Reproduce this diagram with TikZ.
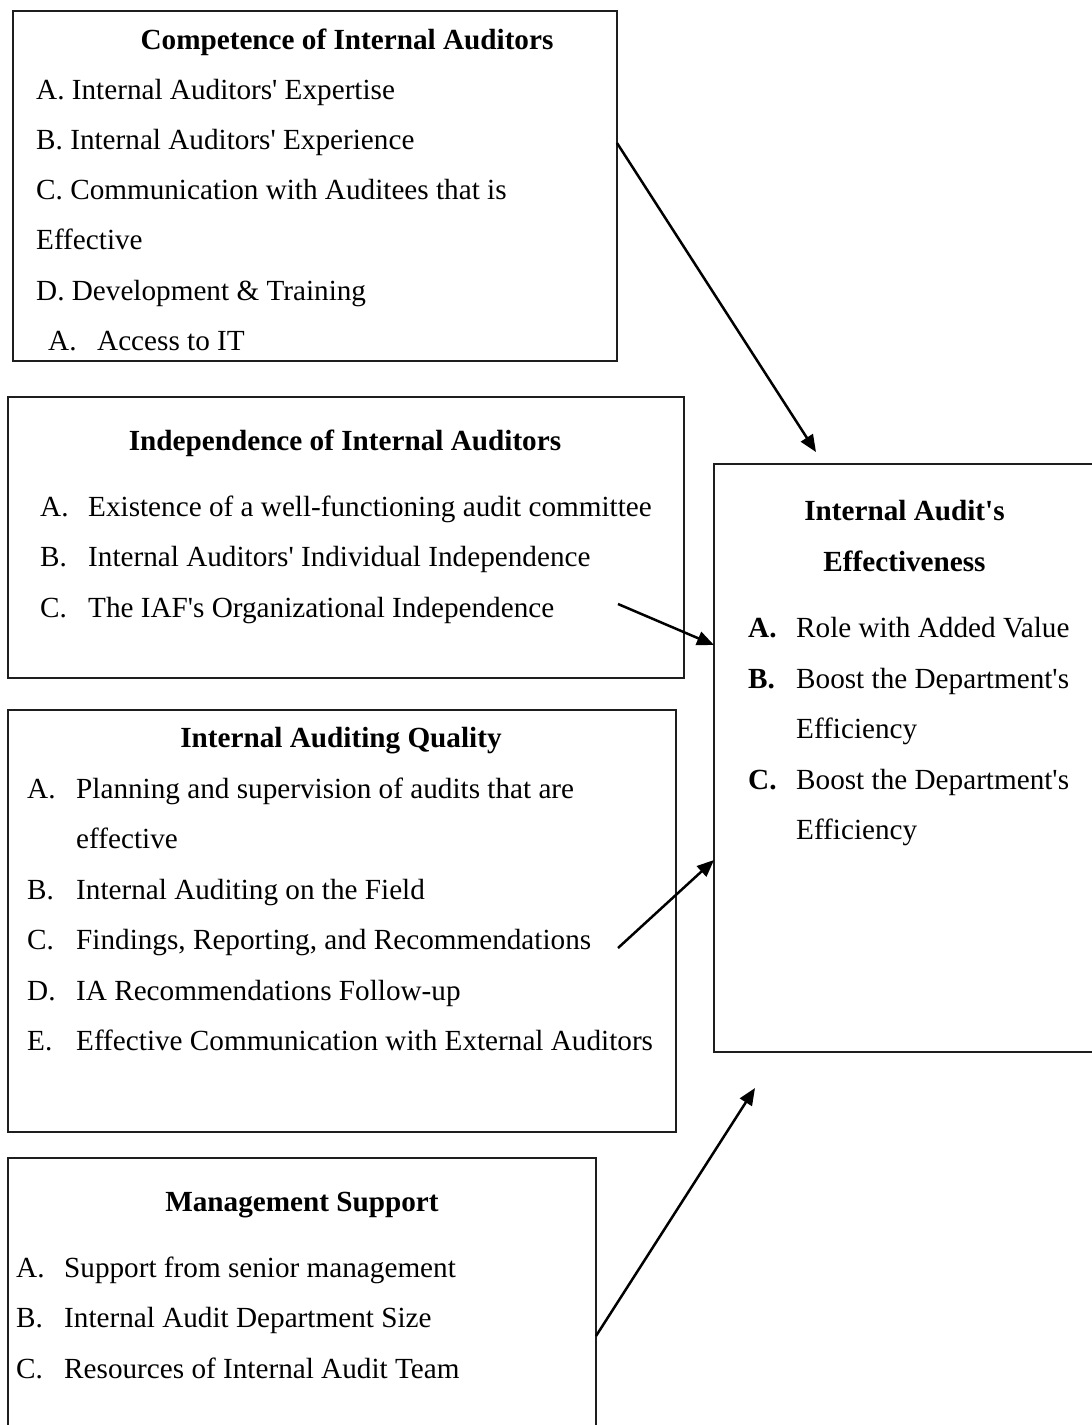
\documentclass[tikz,border=0pt]{standalone}
\usepackage{fontspec}
\setmainfont{Liberation Serif}
\usepackage{tikz}
\usetikzlibrary{calc,arrows.meta}
\definecolor{ink}{HTML}{000000}
\definecolor{frame}{HTML}{1E1E1E}
\newcommand{\ap}{\textquotesingle}
\tikzset{
  box/.style={draw=frame, line width=1.3pt, inner sep=0pt, outer sep=0pt, anchor=north west},
  link/.style={draw=ink, line width=2.5pt, -{Triangle[length=17pt,width=14pt]}},
  head/.style={text=ink, font=\fontsize{29.2}{35}\selectfont\bfseries, inner sep=0pt, anchor=base},
  item/.style={text=ink, font=\fontsize{29.2}{35}\selectfont, inner sep=0pt, anchor=base west},
}

\begin{document}
\begin{tikzpicture}[x=1pt,y=-1pt]
  \useasboundingbox (0,0) rectangle (1092,1425);
  \clip (0,0) rectangle (1092,1425);
  % boxes
  \node[box, minimum width=604pt, minimum height=350pt] (comp) at (13,11) {};
  \node[box, minimum width=676pt, minimum height=281pt] (indep) at (8,397) {};
  \node[box, minimum width=668pt, minimum height=422pt] (qual) at (8,710) {};
  \node[box, minimum width=588pt, minimum height=320pt] (mgmt) at (8,1158) {};
  \node[box, minimum width=420pt, minimum height=588pt] (eff) at (714,464) {};

  % competence
  \node[head] (comp-h) at (347,49) {Competence of Internal Auditors};
  \foreach \txt [count=\i] in {A. Internal Auditors\ap{} Expertise, B. Internal Auditors\ap{} Experience,
      C. Communication with Auditees that is, Effective, D. Development \& Training}
    \node[item] (comp-\i) at (36,{49+50.2*\i}) {\txt};
  \node[item] (comp-6) at (48,350) {A.};
  \node[item] (comp-6t) at (97,350) {Access to IT};

  % independence
  \node[head] (indep-h) at (345,450) {Independence of Internal Auditors};
  \foreach \lab/\txt [count=\i] in {A./Existence of a well-functioning audit committee,
      B./Internal Auditors\ap{} Individual Independence, C./The IAF\ap{}s Organizational Independence} {
    \node[item] (indep-\i) at (40,{466+50.4*\i}) {\lab};
    \node[item] (indep-\i t) at (88,{466+50.4*\i}) {\txt};
  }

  % quality
  \node[head] (qual-h) at (341,747) {Internal Auditing Quality};
  \foreach \lab/\txt/\y [count=\i] in {A./Planning and supervision of audits that are/798,
      B./Internal Auditing on the Field/899, C./{Findings, Reporting, and Recommendations}/949,
      D./IA Recommendations Follow-up/1000, E./Effective Communication with External Auditors/1050} {
    \node[item] (qual-\i) at (27,\y) {\lab};
    \node[item] (qual-\i t) at (76,\y) {\txt};
  }
  \node[item] (qual-1c) at (76,848) {effective};

  % management
  \node[head] (mgmt-h) at (302,1211) {Management Support};
  \foreach \lab/\txt [count=\i] in {A./Support from senior management,
      B./Internal Audit Department Size, C./Resources of Internal Audit Team} {
    \node[item] (mgmt-\i) at (16,{1227+50.4*\i}) {\lab};
    \node[item] (mgmt-\i t) at (64,{1227+50.4*\i}) {\txt};
  }

  % effectiveness
  \node[head] (eff-h1) at (904.5,520) {Internal Audit\ap{}s};
  \node[head] (eff-h2) at (904.5,571) {Effectiveness};
  \node[item] (eff-1) at (748,637) {\textbf{A.}};
  \node[item] (eff-1t) at (796,637) {Role with Added Value};
  \node[item] (eff-2) at (748,688) {\textbf{B.}};
  \node[item] (eff-2t) at (796,688) {Boost the Department\ap{}s};
  \node[item] (eff-2c) at (796,738) {Efficiency};
  \node[item] (eff-3) at (748,789) {\textbf{C.}};
  \node[item] (eff-3t) at (796,789) {Boost the Department\ap{}s};
  \node[item] (eff-3c) at (796,839) {Efficiency};

  % arrows
  \coordinate (s2) at (618,604);
  \coordinate (s3) at (618,948);
  \draw[link] ([yshift=-132pt]comp.north east) -- ([xshift=102pt,yshift=12pt]eff.north west);
  \draw[link] (s2) -- ([yshift=-181pt]eff.north west);
  \draw[link] (s3) -- ([yshift=-396pt]eff.north west);
  \draw[link] ([yshift=-178pt]mgmt.north east) -- ([xshift=41pt,yshift=-36pt]eff.south west);
\end{tikzpicture}
\end{document}
